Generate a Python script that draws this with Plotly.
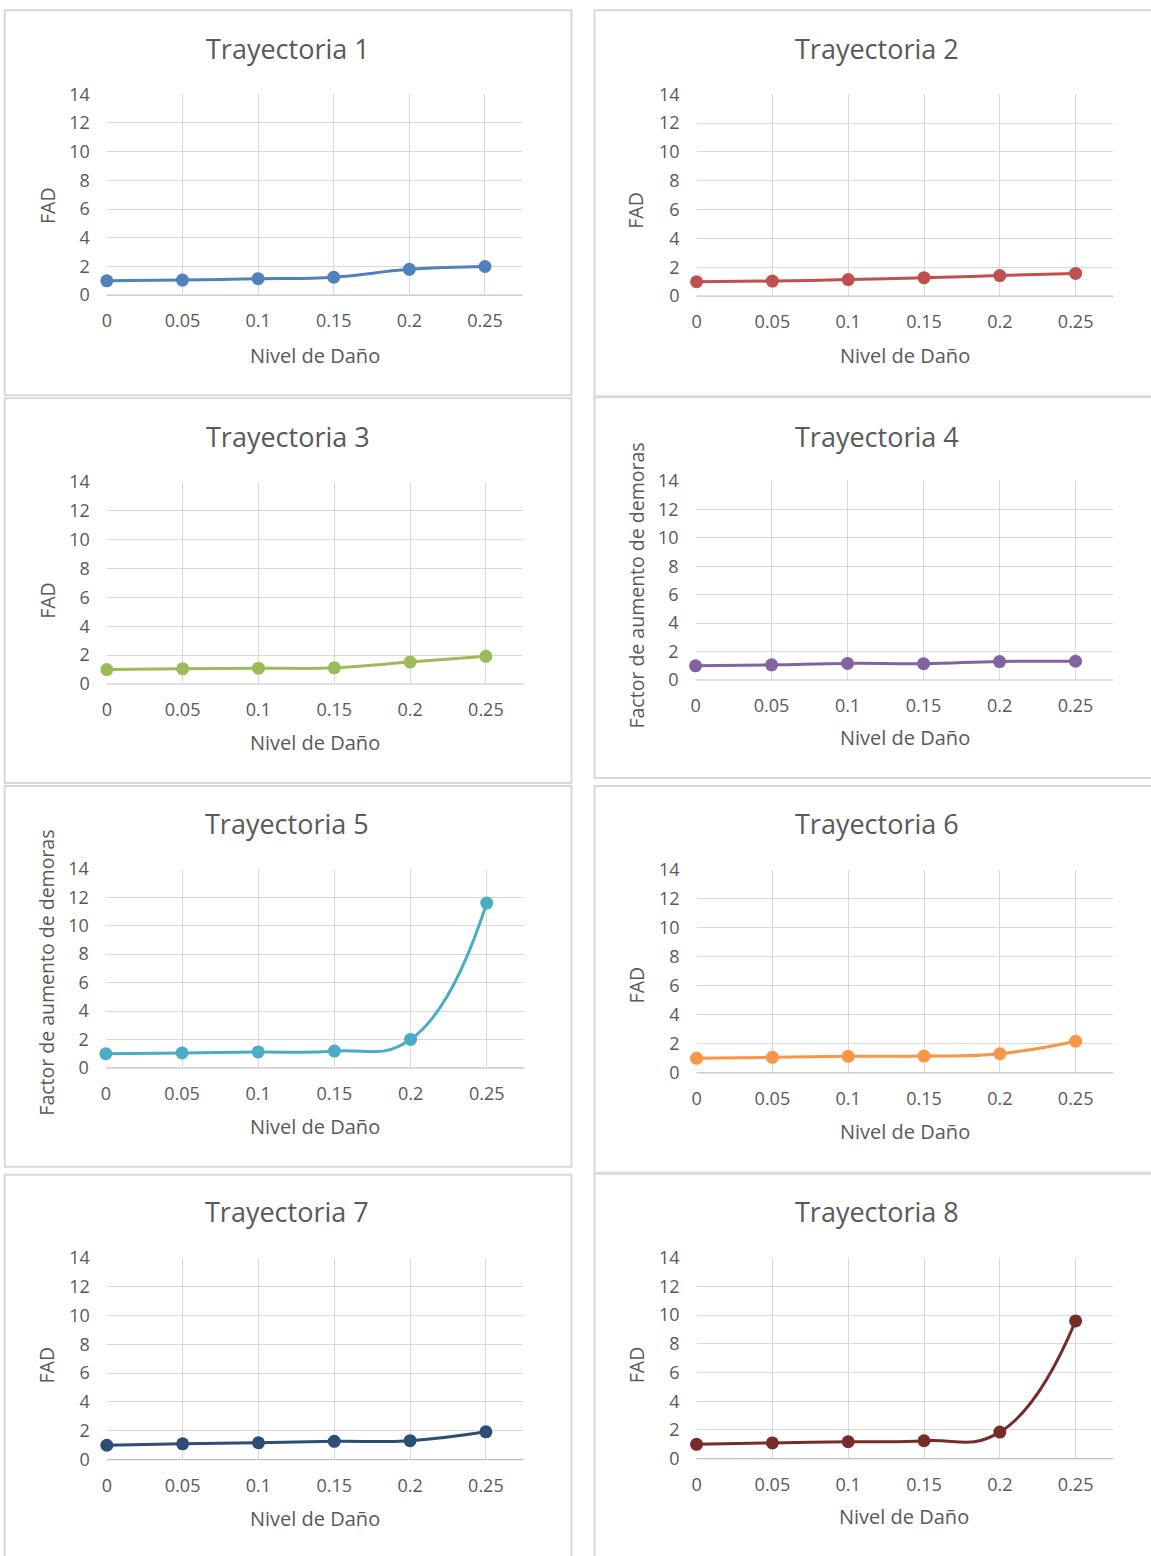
import plotly.graph_objects as go

# Damage levels (category axis) and delay-increase factor per trajectory
nivel_dano = [0, 0.05, 0.1, 0.15, 0.2, 0.25]
x_tick_text = ["0", "0.05", "0.1", "0.15", "0.2", "0.25"]
y_tick_vals = [0, 2, 4, 6, 8, 10, 12, 14]

trayectoria_1 = [1.0, 1.05, 1.15, 1.25, 1.8, 2.0]
trayectoria_2 = [1.0, 1.05, 1.15, 1.28, 1.43, 1.58]
trayectoria_3 = [1.0, 1.05, 1.1, 1.12, 1.52, 1.92]
trayectoria_4 = [1.0, 1.07, 1.17, 1.15, 1.3, 1.32]
trayectoria_5 = [1.0, 1.05, 1.12, 1.18, 2.0, 11.6]
trayectoria_6 = [1.0, 1.07, 1.14, 1.16, 1.32, 2.18]
trayectoria_7 = [1.0, 1.1, 1.17, 1.27, 1.32, 1.93]
trayectoria_8 = [1.0, 1.1, 1.18, 1.25, 1.85, 9.6]

titles = ["Trayectoria %d" % i for i in range(1, 9)]
series = [trayectoria_1, trayectoria_2, trayectoria_3, trayectoria_4,
          trayectoria_5, trayectoria_6, trayectoria_7, trayectoria_8]
y_titles = ["FAD", "FAD", "FAD", "Factor de aumento de demoras",
            "Factor de aumento de demoras", "FAD", "FAD", "FAD"]
x_title = "Nivel de Daño"

colors = ["#4F81BD", "#C0504D", "#9BBB59", "#8064A2",
          "#4BACC6", "#F79646", "#2C4D75", "#772C2A"]

W, H = 1151, 1556
FONT = "Open Sans"
TEXT_GRAY = "#595959"
GRID = "#D9D9D9"
BORDER = "#D9D9D9"

# Pixel geometry of each chart block:
# box (x0, y0, x1, y1), plot area (x0, x1, ytop, ybottom),
# title centre, y-title centre, x-title centre
panels = [
    dict(box=(6, 10, 572, 395), plot=(108, 523, 94, 295), title=(289, 48), yt=(48, 205), xt=(316, 355)),
    dict(box=(595, 10, 1160, 396), plot=(697, 1113, 94, 296), title=(877, 48), yt=(636, 210), xt=(905, 355)),
    dict(box=(6, 398, 572, 783), plot=(108, 524, 482, 684), title=(289, 436), yt=(48, 600), xt=(316, 743)),
    dict(box=(595, 397, 1160, 778), plot=(696, 1113, 481, 680), title=(877, 436), yt=(637, 585), xt=(905, 738)),
    dict(box=(6, 786, 572, 1167), plot=(107, 525, 869, 1068), title=(288, 824), yt=(48, 973), xt=(316, 1127)),
    dict(box=(595, 786, 1160, 1173), plot=(697, 1113, 870, 1073), title=(877, 824), yt=(637, 985), xt=(905, 1132)),
    dict(box=(6, 1175, 572, 1570), plot=(108, 524, 1258, 1460), title=(288, 1212), yt=(48, 1365), xt=(316, 1519)),
    dict(box=(595, 1174, 1160, 1570), plot=(697, 1113, 1258, 1459), title=(877, 1212), yt=(637, 1365), xt=(904, 1517)),
]

# the paper area sits slightly inset inside the page; map page pixels onto it
PAPER_X0, PAPER_XS = 6.3, 0.9944
PAPER_Y0, PAPER_YS = 12.7, 0.985


def px_x(v):
    return (v - PAPER_X0) / (PAPER_XS * W)


def px_y(v):
    return 1 - (v - PAPER_Y0) / (PAPER_YS * H)


fig = go.Figure()
layout = dict(
    width=W, height=H,
    margin=dict(l=0, r=0, t=0, b=0),
    paper_bgcolor="white", plot_bgcolor="white",
    showlegend=False,
    font=dict(family=FONT, color=TEXT_GRAY),
)
shapes, annotations = [], []

for i, (p, ys, col) in enumerate(zip(panels, series, colors)):
    n = i + 1
    xa = "x" if n == 1 else "x%d" % n
    ya = "y" if n == 1 else "y%d" % n
    px0, px1, pyt, pyb = p["plot"]

    fig.add_trace(go.Scatter(
        x=nivel_dano, y=ys, xaxis=xa, yaxis=ya,
        mode="lines+markers",
        line=dict(color=col, width=3, shape="spline", smoothing=1.3),
        marker=dict(color=col, size=13),
        cliponaxis=False,
        hoverinfo="x+y",
    ))

    layout["xaxis" if n == 1 else "xaxis%d" % n] = dict(
        domain=[px_x(px0), px_x(px1)],
        anchor=ya,
        range=[0, 0.2747],
        tickvals=nivel_dano, ticktext=x_tick_text,
        showgrid=True, gridcolor=GRID, gridwidth=1,
        zeroline=False, showline=False, ticks="",
        tickfont=dict(size=18, color=TEXT_GRAY, family=FONT),
        ticklabelstandoff=13,
        fixedrange=True,
    )
    layout["yaxis" if n == 1 else "yaxis%d" % n] = dict(
        domain=[px_y(pyb), px_y(pyt)],
        anchor=xa,
        range=[0, 14],
        tickvals=y_tick_vals,
        showgrid=True, gridcolor=GRID, gridwidth=1,
        zeroline=False, showline=False, ticks="",
        tickfont=dict(size=18, color=TEXT_GRAY, family=FONT),
        ticklabelstandoff=16,
        fixedrange=True,
    )

    # darker baseline at y = 0
    shapes.append(dict(type="line", xref="paper", yref="paper",
                       x0=px_x(px0), x1=px_x(px1), y0=px_y(pyb), y1=px_y(pyb),
                       line=dict(color="#BFBFBF", width=1.2), layer="below"))

    # chart block border
    bx0, by0, bx1, by1 = p["box"]
    shapes.append(dict(type="rect", xref="paper", yref="paper",
                       x0=px_x(bx0), x1=px_x(bx1), y0=px_y(by1), y1=px_y(by0),
                       line=dict(color=BORDER, width=2), layer="below"))

    tx, ty = p["title"]
    annotations.append(dict(text=titles[i], xref="paper", yref="paper",
                            x=px_x(tx), y=px_y(ty), showarrow=False,
                            xanchor="center", yanchor="middle",
                            font=dict(size=27, color=TEXT_GRAY, family=FONT)))
    yx, yy = p["yt"]
    annotations.append(dict(text=y_titles[i], xref="paper", yref="paper",
                            x=px_x(yx), y=px_y(yy), showarrow=False, textangle=-90,
                            xanchor="center", yanchor="middle",
                            font=dict(size=19.5, color=TEXT_GRAY, family=FONT)))
    xx, xy = p["xt"]
    annotations.append(dict(text=x_title, xref="paper", yref="paper",
                            x=px_x(xx), y=px_y(xy), showarrow=False,
                            xanchor="center", yanchor="middle",
                            font=dict(size=20, color=TEXT_GRAY, family=FONT)))

layout["shapes"] = shapes
layout["annotations"] = annotations
fig.update_layout(**layout)

fig.write_html("out.html")
